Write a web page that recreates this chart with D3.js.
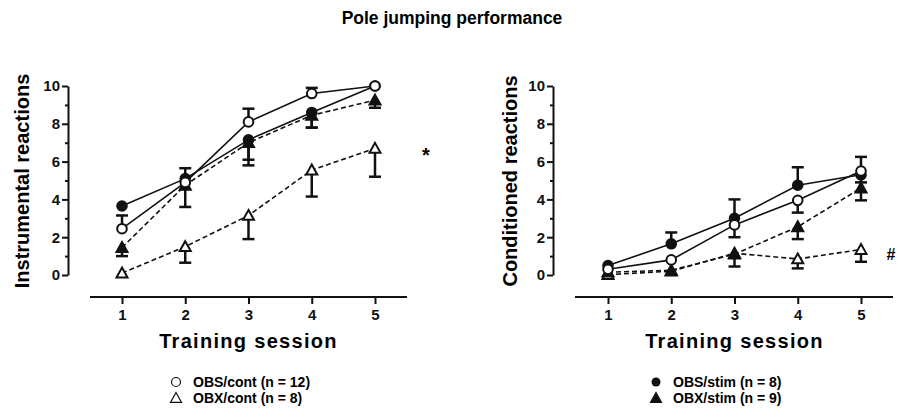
<!DOCTYPE html>
<html>
<head>
<meta charset="utf-8">
<script src="https://cdn.jsdelivr.net/npm/d3@7"></script>
<style>
  body { margin: 0; background: #fff; }
  svg { font-family: "Liberation Sans", Arial, sans-serif; font-weight: bold; }
</style>
</head>
<body>
<svg id="chart" width="899" height="411"></svg>
<script>
// sessions and ticks
const sessions = [1, 2, 3, 4, 5];
const yTicks = [0, 2, 4, 6, 8, 10];
const yMinorTicks = [1, 3, 5, 7, 9];

// left panel: instrumental reactions (signed error: + up, - down)
const instrObsCont = [2.45, 4.9, 8.1, 9.6, 10];
const instrObsContErr = [0.7, 0.75, 0.7, 0.3, 0];
const instrObsStim = [3.65, 5.1, 7.15, 8.6, 10];
const instrObsStimErr = [0, -1.5, -1.05, -0.8, 0];
const instrObxStim = [1.45, 4.75, 7.0, 8.45, 9.25];
const instrObxStimErr = [-0.45, 0, -1.2, -0.65, -0.4];
const instrObxCont = [0.1, 1.5, 3.15, 5.55, 6.7];
const instrObxContErr = [0, -0.85, -1.25, -1.4, -1.5];

// right panel: conditioned reactions
const condObsCont = [0.3, 0.8, 2.65, 3.95, 5.5];
const condObsContErr = [0, 0, -0.65, -0.65, 0.75];
const condObsStim = [0.5, 1.65, 3.0, 4.75, 5.3];
const condObsStimErr = [0, 0.6, 1.0, 0.95, -0.4];
const condObxStim = [0.15, 0.25, 1.1, 2.55, 4.6];
const condObxStimErr = [0, 0, -0.65, -0.65, -0.65];
const condObxCont = [0.02, 0.2, 1.15, 0.85, 1.35];
const condObxContErr = [0, 0, 0, -0.5, -0.65];

const legendLeft = ['OBS/cont (n = 12)', 'OBX/cont (n = 8)'];
const legendRight = ['OBS/stim (n = 8)', 'OBX/stim (n = 9)'];

const svg = d3.select('#chart');

svg.append('text')
  .attr('x', 452).attr('y', 24)
  .attr('text-anchor', 'middle')
  .style('font-size', '17.5px')
  .text('Pole jumping performance');

// draw marker at (x,y)
function marker(g, shape, x, y) {
  if (shape === 'circle-open' || shape === 'circle-filled') {
    g.append('circle')
      .attr('cx', x).attr('cy', y).attr('r', 4.8)
      .attr('fill', shape === 'circle-open' ? '#fff' : '#111')
      .attr('stroke', '#111').attr('stroke-width', 2);
  } else {
    const s = 5.5;
    g.append('path')
      .attr('d', `M${x},${y - s}L${x + s},${y + s * 0.8}L${x - s},${y + s * 0.8}Z`)
      .attr('fill', shape === 'tri-open' ? '#fff' : '#111')
      .attr('stroke', '#111').attr('stroke-width', 2)
      .attr('stroke-linejoin', 'miter');
  }
}

function drawPanel(opt) {
  const x = d3.scaleLinear().domain([1, 5]).range(opt.xRange);
  const y = d3.scaleLinear().domain([0, 10]).range([275, 86]);
  const g = svg.append('g');

  // y axis
  const yAxis = g.append('g')
    .attr('transform', `translate(${opt.yAxisX},0)`)
    .call(d3.axisLeft(y).tickValues(yTicks).tickSize(6).tickPadding(2).tickSizeOuter(0));
  yAxis.select('.domain').attr('stroke', '#111').attr('stroke-width', 2);
  yAxis.selectAll('.tick line').attr('stroke', '#111').attr('stroke-width', 2);
  yAxis.selectAll('text').style('font-size', '15px').attr('fill', '#111');
  g.append('g')
    .attr('transform', `translate(${opt.yAxisX},0)`)
    .call(d3.axisLeft(y).tickValues(yMinorTicks).tickSize(3).tickFormat(''))
    .call(a => a.select('.domain').remove())
    .selectAll('.tick line').attr('stroke', '#111').attr('stroke-width', 2);

  // x axis, offset below
  const xAxis = g.append('g')
    .attr('transform', 'translate(0,297)')
    .call(d3.axisBottom(x).tickValues(sessions).tickFormat(d3.format('d')).tickSize(7).tickPadding(5).tickSizeOuter(0));
  xAxis.select('.domain').attr('d', `M${opt.xLine[0]},0H${opt.xLine[1]}`)
    .attr('stroke', '#111').attr('stroke-width', 2);
  xAxis.selectAll('.tick line').attr('stroke', '#111').attr('stroke-width', 2);
  xAxis.selectAll('text').style('font-size', '15px').attr('fill', '#111');

  g.append('text')
    .attr('x', x(3)).attr('y', 348)
    .attr('text-anchor', 'middle')
    .style('font-size', '20px').style('letter-spacing', '1.3px')
    .text('Training session');

  g.append('text')
    .attr('transform', `translate(${opt.yLabelX},181) rotate(-90)`)
    .attr('text-anchor', 'middle')
    .style('font-size', '20px')
    .text(opt.yLabel);

  const line = d3.line().x((d, i) => x(sessions[i])).y(d => y(d));

  // lines first
  opt.series.forEach(s => {
    g.append('path')
      .attr('d', line(s.values))
      .attr('fill', 'none').attr('stroke', '#111')
      .attr('stroke-width', 1.6)
      .attr('stroke-dasharray', s.dashed ? '5,3' : null);
  });

  // error bars
  opt.series.forEach(s => {
    s.values.forEach((v, i) => {
      const e = s.err[i];
      if (!e) return;
      const cx = x(sessions[i]);
      g.append('line')
        .attr('x1', cx).attr('x2', cx)
        .attr('y1', y(v)).attr('y2', y(v + e))
        .attr('stroke', '#111').attr('stroke-width', 2.5);
      g.append('line')
        .attr('x1', cx - 6).attr('x2', cx + 6)
        .attr('y1', y(v + e)).attr('y2', y(v + e))
        .attr('stroke', '#111').attr('stroke-width', 2.5);
    });
  });

  // markers
  opt.series.forEach(s => {
    s.values.forEach((v, i) => marker(g, s.shape, x(sessions[i]), y(v)));
  });

  g.append('text')
    .attr('x', opt.note.x).attr('y', opt.note.y)
    .attr('text-anchor', 'middle')
    .style('font-size', opt.note.size)
    .text(opt.note.text);
}

drawPanel({
  xRange: [122, 375],
  xLine: [90, 407],
  yAxisX: 68,
  yLabelX: 29,
  yLabel: 'Instrumental reactions',
  note: { x: 426, y: 162, text: '*', size: '20px' },
  series: [
    { values: instrObxCont, err: instrObxContErr, shape: 'tri-open', dashed: true },
    { values: instrObxStim, err: instrObxStimErr, shape: 'tri-filled', dashed: true },
    { values: instrObsStim, err: instrObsStimErr, shape: 'circle-filled', dashed: false },
    { values: instrObsCont, err: instrObsContErr, shape: 'circle-open', dashed: false }
  ]
});

drawPanel({
  xRange: [608, 861],
  xLine: [575, 893],
  yAxisX: 553,
  yLabelX: 517,
  yLabel: 'Conditioned reactions',
  note: { x: 891, y: 260, text: '#', size: '16px' },
  series: [
    { values: condObxCont, err: condObxContErr, shape: 'tri-open', dashed: true },
    { values: condObxStim, err: condObxStimErr, shape: 'tri-filled', dashed: true },
    { values: condObsStim, err: condObsStimErr, shape: 'circle-filled', dashed: false },
    { values: condObsCont, err: condObsContErr, shape: 'circle-open', dashed: false }
  ]
});

// legends
function legend(x0, items, shapes) {
  items.forEach((t, i) => {
    const yy = 382 + i * 16;
    const g = svg.append('g');
    if (shapes[i] === 'circle-open') {
      g.append('circle').attr('cx', x0).attr('cy', yy).attr('r', 4.5)
        .attr('fill', '#fff').attr('stroke', '#111').attr('stroke-width', 1.2);
    } else if (shapes[i] === 'circle-filled') {
      g.append('circle').attr('cx', x0).attr('cy', yy).attr('r', 4.5).attr('fill', '#111');
    } else {
      const s = 5.5;
      g.append('path')
        .attr('d', `M${x0},${yy - s}L${x0 + s},${yy + s * 0.8}L${x0 - s},${yy + s * 0.8}Z`)
        .attr('fill', shapes[i] === 'tri-open' ? '#fff' : '#111')
        .attr('stroke', '#111').attr('stroke-width', 1.2);
    }
    svg.append('text')
      .attr('x', x0 + 17).attr('y', yy + 5)
      .style('font-size', '14px')
      .text(t);
  });
}
legend(176, legendLeft, ['circle-open', 'tri-open']);
legend(656, legendRight, ['circle-filled', 'tri-filled']);
</script>
</body>
</html>
